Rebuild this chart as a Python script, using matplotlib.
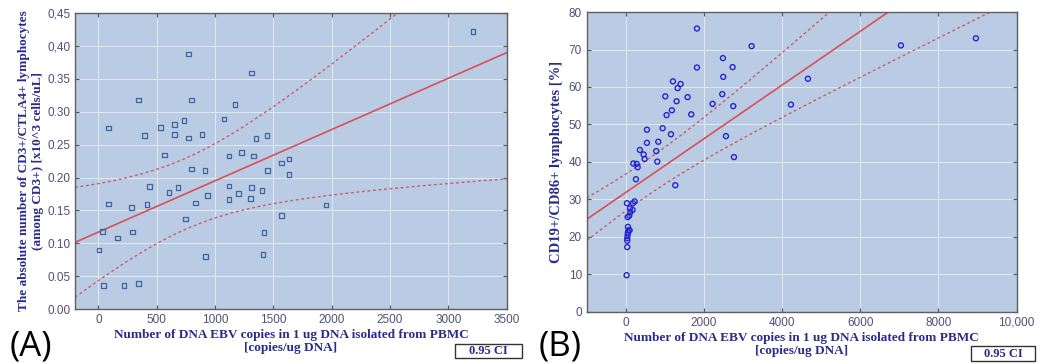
import numpy as np
import matplotlib
matplotlib.use('Agg')
from matplotlib import pyplot as plt
from matplotlib.patches import Rectangle

# panel A data: EBV copies vs CD3+/CTLA4+ count
a_x = [6, 37, 46, 86, 86, 163, 220, 285, 294, 345, 345, 394, 416, 439, 531, 565, 605,
       653, 653, 682, 733, 747, 770, 770, 799, 799, 833, 887, 913, 916, 933, 1075, 1118,
       1121, 1121, 1170, 1201, 1227, 1304, 1312, 1312, 1327, 1352, 1401, 1418, 1412, 1446,
       1449, 1569, 1569, 1634, 1634, 1951, 3209]
a_y = [0.090, 0.118, 0.036, 0.275, 0.160, 0.108, 0.036, 0.154, 0.117, 0.318, 0.039, 0.264,
       0.159, 0.186, 0.276, 0.234, 0.177, 0.281, 0.265, 0.185, 0.287, 0.137, 0.388, 0.260,
       0.318, 0.213, 0.161, 0.265, 0.211, 0.080, 0.173, 0.289, 0.233, 0.187, 0.167, 0.311,
       0.176, 0.238, 0.168, 0.359, 0.185, 0.233, 0.259, 0.180, 0.116, 0.083, 0.264, 0.211,
       0.142, 0.222, 0.228, 0.205, 0.158, 0.422]
# fitted line and 0.95 CI band as drawn in the figure
a_intercept, a_slope = 0.117, 7.8e-5
a_ci_center, a_ci_min, a_ci_k = 750, 0.054, 6.7e-5

# panel B data: EBV copies vs CD19+/CD86+ %
b_x = [17, 34, 34, 34, 43, 51, 68, 94, 51, 43, 85, 111, 102, 171, 26, 179, 222, 256, 188,
       273, 299, 358, 452, 478, 538, 538, 776, 802, 828, 939, 1007, 1041, 1152, 1177, 1203,
       1263, 1297, 1323, 1399, 1578, 1672, 1817, 1817, 2218, 2466, 2483, 2491, 2560, 2730,
       2747, 2765, 3217, 4224, 4659, 7039, 8959]
b_y = [9.8, 17.3, 19.0, 19.7, 20.5, 21.2, 21.8, 21.8, 22.7, 25.3, 25.7, 26.6, 27.6, 27.2,
       29.0, 29.0, 29.5, 35.4, 39.6, 39.5, 38.6, 43.2, 42.0, 40.8, 48.6, 45.1, 42.9, 40.1,
       45.4, 49.0, 57.5, 52.5, 47.4, 53.8, 61.5, 33.8, 56.2, 59.7, 60.8, 57.3, 52.7, 75.6,
       65.2, 55.5, 58.1, 67.7, 62.7, 46.9, 65.3, 54.9, 41.3, 70.9, 55.3, 62.2, 71.1, 73.0]
b_intercept, b_slope = 31.9, 0.00716
b_ci_center, b_ci_min, b_ci_k = 500, 4.8, 2.05e-3

a_yticks = [0.0, 0.05, 0.10, 0.15, 0.20, 0.25, 0.30, 0.35, 0.40, 0.45]
a_yticklabels = ['0.00', '0.05', '0.10', '0.15', '0.20', '0.25', '0.30', '0.35', '0,40', '0,45']
a_xticks = [0, 500, 1000, 1500, 2000, 2500, 3000, 3500]
b_xticks = [0, 2000, 4000, 6000, 8000, 10000]
b_xticklabels = ['0', '2000', '4000', '6000', '8000', '10,000']
b_yticks = [0, 10, 20, 30, 40, 50, 60, 70, 80]

xlab = 'Number of DNA EBV copies in 1 ug DNA isolated from PBMC\n[copies/ug DNA]'

bg = '#b9cce3'
lab_col = '#2a2a8c'
tick_col = '#50507a'
line_col = '#d9505a'
dash_col = '#cc5a6a'


def band(xs, b0, b1, c, h0, k):
    fit = b0 + b1 * xs
    h = np.sqrt(h0 ** 2 + (k * (xs - c)) ** 2)
    return fit, fit - h, fit + h


def style(ax):
    ax.set_facecolor(bg)
    ax.grid(True, color='#e2e9f3', lw=0.7)
    ax.set_axisbelow(True)
    ax.tick_params(direction='in', length=3, top=True, right=True, colors='#555555',
                   labelcolor=tick_col, labelsize=8.5)
    for s in ax.spines.values():
        s.set_color('#606060')
        s.set_linewidth(1.0)
    for t in ax.get_xticklabels() + ax.get_yticklabels():
        t.set_family('Liberation Sans')


fig = plt.figure(figsize=(10.48, 3.64), dpi=100)

# (A)
ax1 = fig.add_axes([0.0716, 0.151, 0.412, 0.813])
xs = np.linspace(-200, 3500, 300)
fit, lo, hi = band(xs, a_intercept, a_slope, a_ci_center, a_ci_min, a_ci_k)
ax1.plot(xs, fit, color=line_col, lw=1.2)
ax1.plot(xs, lo, color=dash_col, lw=1.0, ls=(0, (2, 2)))
ax1.plot(xs, hi, color=dash_col, lw=1.0, ls=(0, (2, 2)))
ax1.scatter(a_x, a_y, marker='s', s=11, facecolors='none', edgecolors='#3f64a0', linewidths=0.9, zorder=3)
ax1.set_xlim(-200, 3500)
ax1.set_ylim(0, 0.45)
ax1.set_xticks(a_xticks)
ax1.set_yticks(a_yticks)
ax1.set_yticklabels(a_yticklabels)
style(ax1)
ax1.set_xlabel(xlab, family='Liberation Serif', weight='bold', color=lab_col, fontsize=9.5, labelpad=2)
ax1.set_ylabel('The absolute number of CD3+/CTLA4+ lymphocytes\n(among CD3+) [x10^3 cells/uL]',
               family='Liberation Serif', weight='bold', color=lab_col, fontsize=9.5, labelpad=2)

# (B)
ax2 = fig.add_axes([0.560, 0.143, 0.410, 0.824])
xs = np.linspace(-1000, 10000, 300)
fit, lo, hi = band(xs, b_intercept, b_slope, b_ci_center, b_ci_min, b_ci_k)
ax2.plot(xs, fit, color=line_col, lw=1.2)
ax2.plot(xs, lo, color=dash_col, lw=1.0, ls=(0, (2, 2)))
ax2.plot(xs, hi, color=dash_col, lw=1.0, ls=(0, (2, 2)))
ax2.scatter(b_x, b_y, marker='o', s=13, facecolors='none', edgecolors='#2424d0', linewidths=1.0, zorder=3)
ax2.set_xlim(-1000, 10000)
ax2.set_ylim(0, 80)
ax2.set_xticks(b_xticks)
ax2.set_xticklabels(b_xticklabels)
ax2.set_yticks(b_yticks)
style(ax2)
ax2.set_xlabel(xlab, family='Liberation Serif', weight='bold', color=lab_col, fontsize=9.5, labelpad=2)
ax2.set_ylabel('CD19+/CD86+ lymphocytes [%]', family='Liberation Serif', weight='bold',
               color=lab_col, fontsize=10.5, labelpad=4)

# panel letters and CI boxes
fig.text(0.009, 0.023, '(A)', fontsize=25, family='Open Sans', color='black')
fig.text(0.514, 0.023, '(B)', fontsize=25, family='Open Sans', color='black')
for x0, w, y0, h in [(0.4342, 0.0639, 0.0165, 0.0385), (0.9265, 0.0611, 0.0082, 0.0412)]:
    fig.patches.append(Rectangle((x0, y0), w, h, transform=fig.transFigure,
                                 fc='white', ec='#333333', lw=1.0))
    fig.text(x0 + w / 2, y0 + h / 2, '0.95 CI', ha='center', va='center', family='Liberation Serif',
             weight='bold', color=lab_col, fontsize=9)

fig.savefig('out.png', dpi=100)
